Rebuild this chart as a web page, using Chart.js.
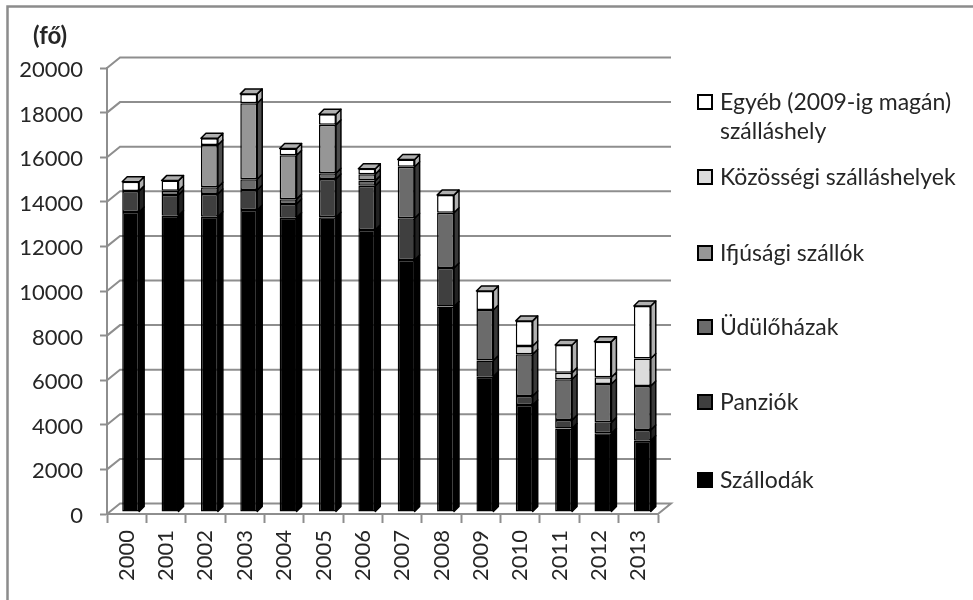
<!DOCTYPE html>
<html>
<head>
<meta charset="utf-8">
<title>Férőhelyek</title>
<script src="https://cdn.jsdelivr.net/npm/chart.js@4/dist/chart.umd.min.js"></script>
<style>
  html, body { margin: 0; padding: 0; background: #fff; }
  canvas { display: block; }
</style>
</head>
<body>
<canvas id="szallasChart" width="973" height="600"></canvas>
<script>
  // data
  const years = ['2000','2001','2002','2003','2004','2005','2006','2007','2008','2009','2010','2011','2012','2013'];
  const szallodak  = [13450,13290,13240,13540,13200,13220,12650,11300,9210,6070,4800,3750,3530,3200];
  const panziok    = [950,930,1020,900,610,1710,1980,1870,1730,720,400,370,490,480];
  const udulohazak = [0,190,300,480,220,260,230,2310,2480,2270,1870,1830,1720,1970];
  const ifjusagi   = [0,0,1900,3410,1970,2170,290,0,0,0,0,0,0,0];
  const kozossegi  = [0,0,0,0,0,0,0,0,0,0,370,300,300,1230];
  const egyeb      = [410,450,300,420,300,480,240,330,790,850,1130,1240,1600,2360];

  const seriesNames = ['Szállodák','Panziók','Üdülőházak','Ifjúsági szállók','Közösségi szálláshelyek','Egyéb (2009-ig magán) szálláshely'];
  const unitLabel = '(fő)';

  // colours: front face, side face
  const fronts = ['#000000','#3f3f3f','#6b6b6b','#969696','#dcdcdc','#ffffff'];
  const sides  = ['#000000','#222222','#393939','#4c4c4c','#9a9a9a','#b0b0b0'];

  const gridColor = '#8e8e8e';
  const textColor = '#262626';
  const fontFamily = 'Lato, "Open Sans", sans-serif';

  // 3d look
  const wallDx = 13, wallDy = -10.5;   // back wall offset
  const barDx = 4, barDy = -2;         // bars stand a little inside the floor
  const depthX = 5, depthY = -5;       // bar depth

  // back wall lines, floor and outer frame
  var wallPlugin = {
    id: 'wall',
    beforeDatasetsDraw: function(chart) {
      var ctx = chart.ctx, y = chart.scales.y, a = chart.chartArea;
      ctx.save();
      ctx.strokeStyle = gridColor;
      ctx.lineWidth = 2;
      y.ticks.forEach(function(t, i) {
        var py = y.getPixelForTick(i);
        ctx.beginPath();
        ctx.moveTo(a.left, py);
        ctx.lineTo(a.left + wallDx, py + wallDy);
        ctx.lineTo(a.right + wallDx, py + wallDy);
        if (t.value === 0) ctx.lineTo(a.right, py);
        ctx.stroke();
      });
      ctx.restore();

      // bars are drawn shifted, undone in afterDatasetsDraw
      ctx.save();
      ctx.translate(barDx, barDy);
    },
    afterDatasetsDraw: function(chart) {
      var ctx = chart.ctx;
      ctx.lineWidth = 1.5;
      ctx.strokeStyle = '#000';
      ctx.lineJoin = 'round';
      chart.data.datasets.forEach(function(ds, d) {
        chart.getDatasetMeta(d).data.forEach(function(bar, i) {
          if (ds.data[i] === 0) return;
          var right = bar.x + bar.width / 2;
          ctx.fillStyle = sides[d];
          ctx.beginPath();
          ctx.moveTo(right, bar.base);
          ctx.lineTo(right + depthX, bar.base + depthY);
          ctx.lineTo(right + depthX, bar.y + depthY);
          ctx.lineTo(right, bar.y);
          ctx.closePath();
          ctx.fill();
          ctx.stroke();
        });
      });
      // top faces on the highest segment
      var last = chart.data.datasets.length - 1;
      chart.getDatasetMeta(last).data.forEach(function(bar) {
        var left = bar.x - bar.width / 2, right = bar.x + bar.width / 2;
        ctx.fillStyle = sides[last];
        ctx.beginPath();
        ctx.moveTo(left, bar.y);
        ctx.lineTo(left + depthX, bar.y + depthY);
        ctx.lineTo(right + depthX, bar.y + depthY);
        ctx.lineTo(right, bar.y);
        ctx.closePath();
        ctx.fill();
        ctx.stroke();
      });
      ctx.restore();
    },
    afterDraw: function(chart) {
      var ctx = chart.ctx;
      ctx.save();

      // frame, only left and top are in the picture
      ctx.strokeStyle = '#8c8c8c';
      ctx.lineWidth = 2.5;
      ctx.beginPath();
      ctx.moveTo(7.5, 600);
      ctx.lineTo(7.5, 6.5);
      ctx.lineTo(973, 6.5);
      ctx.stroke();

      // unit
      ctx.fillStyle = textColor;
      ctx.font = 'bold 24px ' + fontFamily;
      ctx.textAlign = 'left';
      ctx.textBaseline = 'middle';
      ctx.fillText(unitLabel, 33, 36);

      // legend, top entry is the last series
      var rows = [480, 402, 327, 253, 177, 102];
      ctx.font = '23px ' + fontFamily;
      chart.data.datasets.forEach(function(ds, d) {
        var lines = d === 5 ? ['Egyéb (2009-ig magán)', 'szálláshely'] : [ds.label];
        ctx.fillStyle = fronts[d];
        ctx.fillRect(698, rows[d] - 7, 14, 14);
        ctx.strokeStyle = '#000';
        ctx.lineWidth = 2;
        ctx.strokeRect(698, rows[d] - 7, 14, 14);
        ctx.fillStyle = textColor;
        lines.forEach(function(line, l) {
          ctx.fillText(line, 720, rows[d] + 1 + l * 29);
        });
      });
      ctx.restore();
    }
  };

  var datasetsList = [szallodak, panziok, udulohazak, ifjusagi, kozossegi, egyeb].map(function(values, i) {
    return {
      label: seriesNames[i],
      data: values,
      backgroundColor: fronts[i],
      borderColor: '#000',
      borderWidth: 1.5,
      borderSkipped: false,
      clip: false,
      barPercentage: 0.43,
      categoryPercentage: 1
    };
  });

  new Chart(document.getElementById('szallasChart').getContext('2d'), {
    type: 'bar',
    data: { labels: years, datasets: datasetsList },
    plugins: [wallPlugin],
    options: {
      responsive: false,
      animation: false,
      layout: { padding: { left: 0, top: 68, right: 315, bottom: 0 } },
      plugins: { legend: { display: false }, title: { display: false }, tooltip: { enabled: false } },
      scales: {
        x: {
          stacked: true,
          afterFit: function(scale) { scale.height = 86; },
          border: { display: true, color: gridColor, width: 2 },
          grid: { drawOnChartArea: false, drawTicks: true, tickLength: 9, tickColor: gridColor, tickWidth: 2 },
          ticks: {
            minRotation: 90, maxRotation: 90, padding: 7, color: textColor,
            font: { family: fontFamily, size: 22 }
          }
        },
        y: {
          stacked: true,
          min: 0,
          max: 20000,
          afterFit: function(scale) { scale.width = 107; },
          border: { display: true, color: gridColor, width: 2 },
          grid: { drawOnChartArea: false, drawTicks: true, tickLength: 7, tickColor: gridColor, tickWidth: 2 },
          ticks: {
            stepSize: 2000, padding: 17, labelOffset: 2, color: textColor,
            font: { family: fontFamily, size: 22 },
            callback: function(v) { return String(v); }
          }
        }
      }
    }
  });
</script>
</body>
</html>
